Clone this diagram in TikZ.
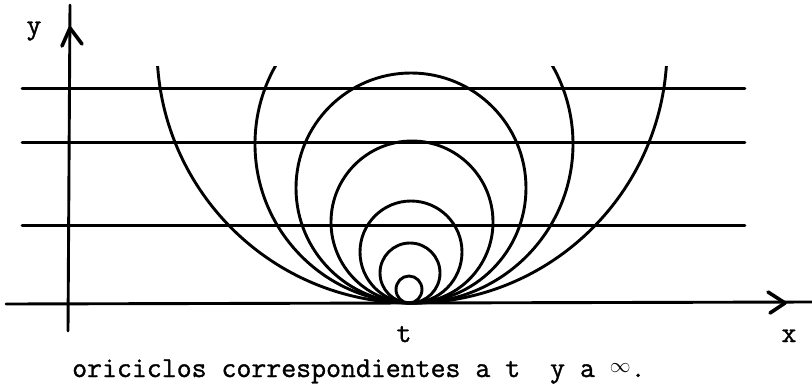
\documentclass[tikz,border=0pt]{standalone}
\usepackage{fontspec}
\setmonofont[FakeBold=1.2]{Latin Modern Mono}
\begin{document}
\begin{tikzpicture}[x=1pt,y=-1pt,
  ink/.style={line width=2.9pt,line cap=round,line join=round},
  lbl/.style={font=\ttfamily\fontsize{29}{29}\selectfont,inner sep=0pt}]
\useasboundingbox (0,0) rectangle (812,386);
% axes
\draw[ink] (68,331) -- (70,5);
\draw[ink,line width=3.6pt] (62,46) -- (70,28) -- (82,44);
\draw[ink] (6,304) -- (812,302);
\draw[ink,line width=3.6pt] (768,292) -- (785,303) -- (770,313);
% horizontal lines
\draw[ink] (22,88.5) -- (745,88.5);
\draw[ink] (22,142.5) -- (745,142.5);
\draw[ink] (22,225.5) -- (745,225.5);
% horocycles at t
\draw[ink] (409,289.5) ellipse [x radius=13, y radius=13.5];
\draw[ink] (410,273) circle [radius=30];
\draw[ink] (411,252) circle [radius=51];
\draw[ink] (412,222) circle [radius=81];
\draw[ink] (411,188) circle [radius=115];
\begin{scope}
  \clip (0,66.5) rectangle (812,386);
  \draw[ink] (414,144) circle [radius=159];
  \draw[ink] (412,48) circle [radius=255];
\end{scope}
% labels
\node[lbl,anchor=base] (ylab) at (34,34) {y};
\node[lbl,anchor=base] (tlab) at (404,342) {t};
\node[lbl,anchor=base] (xlab) at (789,342) {x};
\node[lbl,anchor=base west] (cap) at (72,377) {oriciclos correspondientes a t\ \ y a \raisebox{0.14em}{$\scriptstyle\infty$}.};
\end{tikzpicture}
\end{document}
